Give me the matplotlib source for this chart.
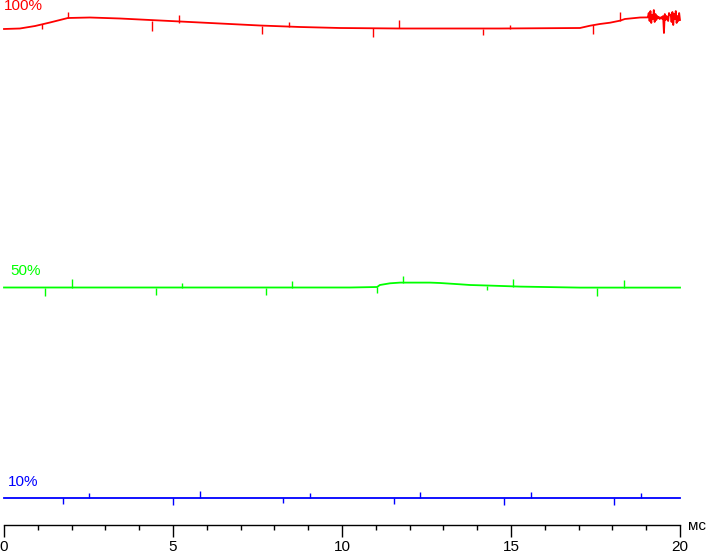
import matplotlib
matplotlib.use('Agg')
import matplotlib.pyplot as plt
import numpy as np

plt.rcParams['font.family'] = ['Liberation Sans', 'DejaVu Sans']

# --- data (time in ms, level in arbitrary units) ---
# 100% trace: slow baseline
red_t = [0.0, 0.47, 0.92, 1.36, 1.89, 2.54, 3.43, 4.32, 5.21, 6.39, 7.57, 8.76,
         9.94, 11.72, 14.67, 17.04, 17.34, 17.63, 17.93, 18.22, 18.37, 18.82, 19.05]
red_y = [496, 496.5, 499, 502.5, 507, 507.5, 506.5, 505, 503.5, 501.5, 499.5, 498,
         497, 496.5, 496.5, 497, 499.3, 501, 502.3, 504.3, 506, 507.5, 507.6]
# noisy tail of the 100% trace, 19.05 .. 20.0 ms, step 0.025 ms
red_tail = [508, 512, 504, 514, 502, 510, 506, 515, 503, 511, 505, 509, 507, 508,
            506, 507, 508, 506, 509, 492, 511, 505, 509, 507, 504, 512, 510, 510,
            503, 513, 500, 511, 506, 514, 502, 509, 504, 512, 505]
# spikes: time, baseline, peak
red_spk_t = [1.12, 1.89, 4.38, 5.18, 7.63, 8.43, 10.92, 11.69, 14.17, 14.97, 17.43, 18.22]
red_spk_b = [501.5, 507.5, 504, 502.5, 499, 498, 496.7, 496.7, 496.5, 496.5, 500, 504.5]
red_spk_p = [496, 513, 494, 510, 491, 503, 488, 505, 490, 500, 491, 513]

# 50% trace
grn_t = [0.0, 10.24, 11.04, 11.12, 11.42, 11.72, 12.60, 12.90, 13.49, 13.79,
         14.38, 15.27, 17.04, 20.0]
grn_y = [237.5, 237.5, 238, 240, 241.7, 242.4, 242.4, 242, 240.7, 240,
         239.4, 238.4, 237.4, 237.4]
grn_spk_t = [1.21, 2.01, 4.50, 5.27, 7.75, 8.52, 11.04, 11.80, 14.29, 15.06, 17.54, 18.34]
grn_spk_b = [237.5, 237.5, 237.5, 237.5, 237.5, 237.5, 238, 242.4, 239.5, 238.4, 237.4, 237.4]
grn_spk_p = [229, 246, 230, 242, 230, 244, 232, 249, 235, 246, 229, 245]

# 10% trace
blu_t = [0.0, 20.0]
blu_y = [26.7, 26.7]
blu_spk_t = [1.75, 2.51, 5.00, 5.80, 8.25, 9.05, 11.54, 12.31, 14.79, 15.59, 18.05, 18.85]
blu_spk_p = [21.3, 32.3, 20.3, 34.3, 22.3, 32, 21, 33, 20, 33, 20, 32]

labels = ['100%', '50%', '10%']
colors = ['#ff0000', '#00ff00', '#0000ff']

fig = plt.figure(figsize=(7.07, 5.53), dpi=100, facecolor='white')
ax = fig.add_axes([0, 0, 1, 1])

lw = 1.3
tail_t = 19.05 + 0.025 * np.arange(len(red_tail))
ax.plot(red_t + list(tail_t), red_y + red_tail, color=colors[0], lw=lw)
ax.vlines(red_spk_t, red_spk_b, red_spk_p, color=colors[0], lw=1.0)

ax.plot(grn_t, grn_y, color=colors[1], lw=lw)
ax.vlines(grn_spk_t, grn_spk_b, grn_spk_p, color=colors[1], lw=1.0)

ax.plot(blu_t, blu_y, color=colors[2], lw=lw)
ax.vlines(blu_spk_t, blu_y[0], blu_spk_p, color=colors[2], lw=1.0)

# trace labels
ax.text(0.0, 519, labels[0], color=colors[0], fontsize=11, va='center', ha='left')
ax.text(0.18, 254, labels[1], color=colors[1], fontsize=11, va='center', ha='left')
ax.text(0.12, 43, labels[2], color=colors[2], fontsize=11, va='center', ha='left')

ax.set_xlim(-4 / 33.8, 20 + 27 / 33.8)
ax.set_ylim(-28, 525)

# axes setup
for s in ['left', 'right', 'top']:
    ax.spines[s].set_visible(False)
ax.spines['bottom'].set_position(('data', 0))
ax.spines['bottom'].set_bounds(0, 20)
ax.spines['bottom'].set_linewidth(1.0)
ax.set_yticks([])
ax.set_xticks(range(0, 21, 5))
ax.set_xticks(range(0, 21), minor=True)
ax.tick_params(axis='x', which='major', direction='out', length=8.6, width=1.0,
               pad=2.5, labelsize=11)
ax.tick_params(axis='x', which='minor', direction='out', length=3.6, width=1.0)
ax.text(20.24, -1.5, 'мс', fontsize=11, va='center', ha='left')

fig.savefig('out.png', dpi=100, facecolor='white')
